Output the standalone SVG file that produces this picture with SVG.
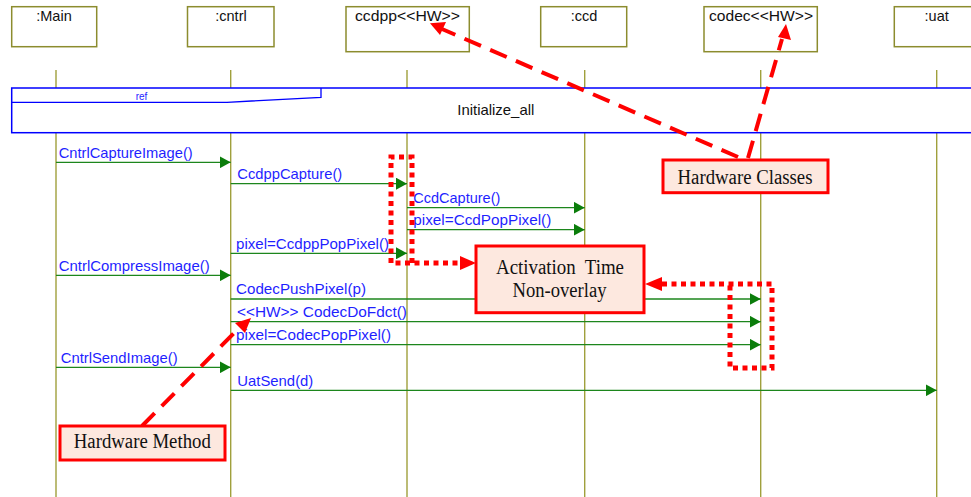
<svg xmlns="http://www.w3.org/2000/svg" width="971" height="497" viewBox="0 0 971 497">
<style>
.head{fill:#fff;stroke:#8c8c2e;stroke-width:1.5}
.ht{font-family:"Liberation Sans",Arial,sans-serif;font-size:14.5px;fill:#111;text-anchor:middle}
.life{stroke:#a0a03c;stroke-width:1.4}
.msg{stroke:#1c861c;stroke-width:1.3;fill:none}
.ml{font-family:"Liberation Sans",Arial,sans-serif;font-size:14.5px;fill:#1f1fff}
.note{fill:#fde8df;stroke:#ff0000;stroke-width:3}
.nt{font-family:"Liberation Serif","Times New Roman",serif;font-size:20px;fill:#111;text-anchor:middle;white-space:pre}
.dash{stroke:#ff0000;stroke-width:4;stroke-dasharray:18 10;fill:none}
.dot{stroke:#ff0000;stroke-width:5;stroke-dasharray:5 4.5;fill:none}
.rh{fill:#ff0000}
</style>
<defs>
<marker id="ah" markerUnits="userSpaceOnUse" markerWidth="11" markerHeight="12" refX="11" refY="6" orient="auto">
<path d="M0,0 L11,6 L0,12 z" fill="#0b7d0b"/>
</marker>
</defs>
<rect width="971" height="497" fill="#fff"/>
<g id="lifelines">
<line class="life" x1="56" y1="70" x2="56" y2="497"/>
<line class="life" x1="230.7" y1="70" x2="230.7" y2="497"/>
<line class="life" x1="407" y1="70" x2="407" y2="497"/>
<line class="life" x1="584.7" y1="70" x2="584.7" y2="497"/>
<line class="life" x1="760.7" y1="70" x2="760.7" y2="497"/>
<line class="life" x1="936.7" y1="70" x2="936.7" y2="497"/>
</g>
<g id="main"><rect class="head" x="11.7" y="6.7" width="85" height="40"/><text class="ht" x="54" y="21">:Main</text></g>
<g id="cntrl"><rect class="head" x="187.5" y="6.7" width="86.5" height="40"/><text class="ht" x="231" y="21">:cntrl</text></g>
<g id="ccdpp"><rect class="head" x="346" y="6.7" width="123.3" height="45"/><text class="ht" x="407.5" y="21" textLength="105" lengthAdjust="spacingAndGlyphs">ccdpp&lt;&lt;HW&gt;&gt;</text></g>
<g id="ccd"><rect class="head" x="540.7" y="6.7" width="86" height="40"/><text class="ht" x="584" y="21">:ccd</text></g>
<g id="codec"><rect class="head" x="704" y="6.7" width="113.3" height="45"/><text class="ht" x="761" y="21" textLength="104" lengthAdjust="spacingAndGlyphs">codec&lt;&lt;HW&gt;&gt;</text></g>
<g id="uat"><rect class="head" x="894.3" y="6.7" width="80" height="40"/><text class="ht" x="936.7" y="21">:uat</text></g>
<g id="ref-frame">
<rect x="11.7" y="88" width="970" height="44.7" fill="#fff" stroke="#0000ff" stroke-width="1.5"/>
<polyline points="11.7,102.3 227,102.3 321,97.3 321,88" fill="none" stroke="#0000ff" stroke-width="1.3"/>
<text x="141.5" y="99.5" font-family="Liberation Sans,Arial,sans-serif" font-size="10" fill="#1f1fff" text-anchor="middle">ref</text>
<text x="495.8" y="115" font-family="Liberation Sans,Arial,sans-serif" font-size="14.5" fill="#111" text-anchor="middle" textLength="77" lengthAdjust="spacingAndGlyphs">Initialize_all</text>
</g>
<g id="messages">
<line class="msg" x1="56" y1="162.3" x2="230.7" y2="162.3" marker-end="url(#ah)"/>
<text class="ml" x="58.7" y="158" textLength="134" lengthAdjust="spacingAndGlyphs">CntrlCaptureImage()</text>
<line class="msg" x1="230.7" y1="183.7" x2="407" y2="183.7" marker-end="url(#ah)"/>
<text class="ml" x="237.3" y="179" textLength="105" lengthAdjust="spacingAndGlyphs">CcdppCapture()</text>
<line class="msg" x1="407" y1="207.7" x2="584.7" y2="207.7" marker-end="url(#ah)"/>
<text class="ml" x="413.3" y="203" textLength="87" lengthAdjust="spacingAndGlyphs">CcdCapture()</text>
<line class="msg" x1="407" y1="229.7" x2="584.7" y2="229.7" marker-end="url(#ah)"/>
<text class="ml" x="413.3" y="225" textLength="138" lengthAdjust="spacingAndGlyphs">pixel=CcdPopPixel()</text>
<line class="msg" x1="230.7" y1="253.3" x2="407" y2="253.3" marker-end="url(#ah)"/>
<text class="ml" x="236" y="248.5" textLength="153" lengthAdjust="spacingAndGlyphs">pixel=CcdppPopPixel()</text>
<line class="msg" x1="56" y1="275.3" x2="230.7" y2="275.3" marker-end="url(#ah)"/>
<text class="ml" x="58.7" y="271" textLength="151" lengthAdjust="spacingAndGlyphs">CntrlCompressImage()</text>
<line class="msg" x1="230.7" y1="299" x2="760.7" y2="299" marker-end="url(#ah)"/>
<text class="ml" x="236" y="294" textLength="130" lengthAdjust="spacingAndGlyphs">CodecPushPixel(p)</text>
<line class="msg" x1="230.7" y1="321.7" x2="760.7" y2="321.7" marker-end="url(#ah)"/>
<text class="ml" x="237" y="317" textLength="170" lengthAdjust="spacingAndGlyphs">&lt;&lt;HW&gt;&gt; CodecDoFdct()</text>
<line class="msg" x1="230.7" y1="344.7" x2="760.7" y2="344.7" marker-end="url(#ah)"/>
<text class="ml" x="236" y="340" textLength="155" lengthAdjust="spacingAndGlyphs">pixel=CodecPopPixel()</text>
<line class="msg" x1="56" y1="367.3" x2="230.7" y2="367.3" marker-end="url(#ah)"/>
<text class="ml" x="60.7" y="362.5" textLength="117" lengthAdjust="spacingAndGlyphs">CntrlSendImage()</text>
<line class="msg" x1="230.7" y1="390.3" x2="936.7" y2="390.3" marker-end="url(#ah)"/>
<text class="ml" x="237.3" y="385.5" textLength="76" lengthAdjust="spacingAndGlyphs">UatSend(d)</text>
</g>
<g id="annotations">
<path class="dash" d="M738,157 L442,29"/>
<polygon class="rh" points="430,23.3 446,22 440,35"/>
<path class="dash" d="M748,158 L782,39"/>
<polygon class="rh" points="786,24 791,40 778,37"/>
<path class="dash" d="M142,426 L240,327"/>
<polygon class="rh" points="251,318 245,333 235,323"/>
<path class="dot" d="M412,263 L412,157 L391,157 L391,263 L460,263"/>
<polygon class="rh" points="476,263 460,256 460,270"/>
<path class="dot" d="M662,284 L772,284 L772,368 L730,368 L730,284"/>
<polygon class="rh" points="645,284 662,277 662,291"/>
</g>
<g id="hw-classes"><rect class="note" x="663" y="160" width="165" height="32.7"/><text class="nt" x="745" y="183.5" textLength="135" lengthAdjust="spacingAndGlyphs">Hardware Classes</text></g>
<g id="activation"><rect class="note" x="476" y="246" width="168" height="66.7"/><text class="nt" x="560" y="273.5" textLength="128" lengthAdjust="spacingAndGlyphs">Activation  Time</text><text class="nt" x="559.5" y="296.5" textLength="94" lengthAdjust="spacingAndGlyphs">Non-overlay</text></g>
<g id="hw-method"><rect class="note" x="60" y="426" width="165" height="34"/><text class="nt" x="142.3" y="448.3" textLength="137" lengthAdjust="spacingAndGlyphs">Hardware Method</text></g>
</svg>
